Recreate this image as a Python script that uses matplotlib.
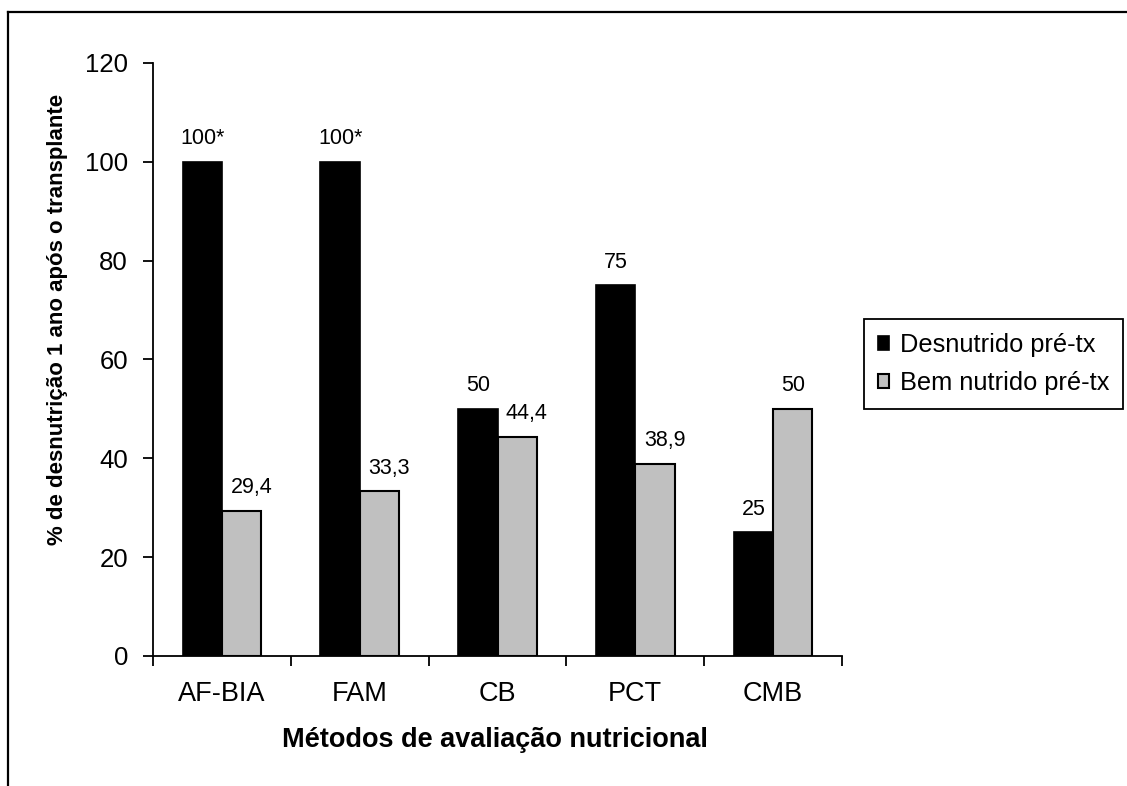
import matplotlib.pyplot as plt
from matplotlib.lines import Line2D
import numpy as np

plt.rcParams['font.family'] = ['Liberation Sans', 'DejaVu Sans']

metodos = ['AF-BIA', 'FAM', 'CB', 'PCT', 'CMB']
desnutrido = [100, 100, 50, 75, 25]
bem_nutrido = [29.4, 33.3, 44.4, 38.9, 50]
rot_desnutrido = ['100*', '100*', '50', '75', '25']
rot_bem_nutrido = ['29,4', '33,3', '44,4', '38,9', '50']

fig = plt.figure(figsize=(11.27, 7.86), dpi=100)
ax = fig.add_axes([0.1358, 0.1654, 0.6113, 0.7545])

x = np.arange(len(metodos))
w = 0.285
b1 = ax.bar(x - w / 2, desnutrido, w, color='black', edgecolor='black', linewidth=1.2,
            label='Desnutrido pré-tx')
b2 = ax.bar(x + w / 2, bem_nutrido, w, color='#c0c0c0', edgecolor='black', linewidth=1.5,
            label='Bem nutrido pré-tx')

for rect, txt in zip(b1, rot_desnutrido):
    ax.annotate(txt, (rect.get_x() + rect.get_width() / 2, rect.get_height()),
                xytext=(0, 9), textcoords='offset points', ha='center', va='bottom', fontsize=15.5)
for rect, txt in zip(b2, rot_bem_nutrido):
    dx = 7 if ',' in txt else 0
    ax.annotate(txt, (rect.get_x() + rect.get_width() / 2, rect.get_height()),
                xytext=(dx, 9), textcoords='offset points', ha='center', va='bottom', fontsize=15.5)

ax.set_xlim(-0.5, len(metodos) - 0.5)
ax.set_ylim(0, 120)
ax.set_yticks(range(0, 121, 20))
ax.set_xticks(x)
ax.set_xticklabels(metodos)
ax.set_xticks(np.arange(len(metodos) + 1) - 0.5, minor=True)
ax.tick_params(axis='x', which='major', length=0, pad=18, labelsize=19.5)
ax.tick_params(axis='x', which='minor', length=7, width=1.3, direction='out')
ax.tick_params(axis='y', length=7, width=1.3, direction='out', pad=11, labelsize=18.5)

for s in ['top', 'right']:
    ax.spines[s].set_visible(False)
for s in ['left', 'bottom']:
    ax.spines[s].set_linewidth(1.3)

ax.set_xlabel('Métodos de avaliação nutricional', fontsize=19.5, fontweight='bold')
ax.xaxis.set_label_coords(0.496, -0.12)
ax.set_ylabel('% de desnutrição 1 ano após o transplante', fontsize=16, fontweight='bold')
ax.yaxis.set_label_coords(-0.123, 0.567)

leg = fig.legend(handles=[b1, b2], loc='upper left', bbox_to_anchor=(0.7666, 0.5942),
                 bbox_transform=fig.transFigure, borderaxespad=0, fontsize=18.3,
                 fancybox=False, edgecolor='black', framealpha=1,
                 handlelength=0.45, handleheight=0.45, handletextpad=0.4,
                 borderpad=0.55, labelspacing=0.55)
leg.get_frame().set_linewidth(1.3)

# moldura (topo e esquerda)
fig.add_artist(Line2D([8 / 1127, 1], [1 - 12 / 786, 1 - 12 / 786], color='black', lw=1.6))
fig.add_artist(Line2D([8 / 1127, 8 / 1127], [0, 1 - 12 / 786], color='black', lw=1.6))

fig.savefig('out.png', dpi=100)
